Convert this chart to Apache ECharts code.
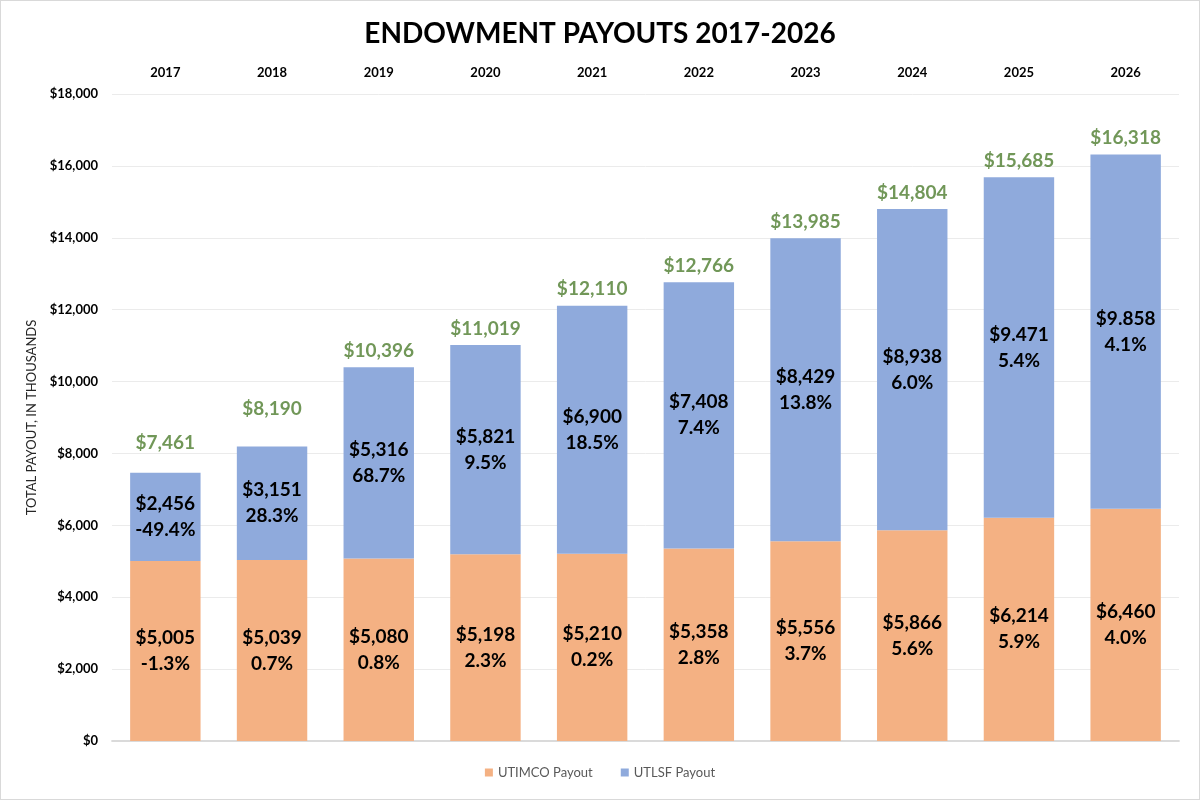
<!DOCTYPE html>
<html lang="en">
<head>
  <meta charset="UTF-8">
  <script src="https://cdn.jsdelivr.net/npm/echarts@6/dist/echarts.min.js"></script>
  <title>Endowment Payouts 2017-2026</title>
  <style>
    html, body { margin: 0; padding: 0; background: #fff; }
    #main {
      width: 1200px;
      height: 800px;
      box-sizing: border-box;
      border: 1px solid #d9d9d9;
    }
  </style>
</head>
<body>
  <div id="main"></div>
  <script>
    // data
    var years = ['2017', '2018', '2019', '2020', '2021', '2022', '2023', '2024', '2025', '2026'];
    var utimco = [5005, 5039, 5080, 5198, 5210, 5358, 5556, 5866, 6214, 6460];
    var utlsf = [2456, 3151, 5316, 5821, 6900, 7408, 8429, 8938, 9471, 9858];
    var totals = [7461, 8190, 10396, 11019, 12110, 12766, 13985, 14804, 15685, 16318];
    var utimcoGrowth = ['-1.3%', '0.7%', '0.8%', '2.3%', '0.2%', '2.8%', '3.7%', '5.6%', '5.9%', '4.0%'];
    var utlsfGrowth = ['-49.4%', '28.3%', '68.7%', '9.5%', '18.5%', '7.4%', '13.8%', '6.0%', '5.4%', '4.1%'];
    // the source shows two of these with a dot instead of a comma
    var utlsfText = ['$2,456', '$3,151', '$5,316', '$5,821', '$6,900', '$7,408', '$8,429', '$8,938', '$9.471', '$9.858'];

    var FONT = 'Lato';
    var chart = echarts.init(document.getElementById('main'));

    function money(v) {
      return '$' + v.toLocaleString('en-US');
    }

    var barLabel = {
      show: true,
      position: 'inside',
      fontFamily: FONT,
      fontWeight: 'bold',
      fontSize: 19,
      lineHeight: 26,
      color: '#000'
    };

    chart.setOption({
      animation: false,
      textStyle: { fontFamily: FONT },
      title: {
        text: 'ENDOWMENT PAYOUTS 2017-2026',
        left: 'center',
        top: 14,
        textStyle: { fontFamily: FONT, fontSize: 28, fontWeight: 'bold', color: '#000' }
      },
      legend: {
        data: ['UTIMCO Payout', 'UTLSF Payout'],
        bottom: 15,
        left: 'center',
        itemWidth: 8,
        itemHeight: 8,
        itemGap: 28,
        icon: 'rect',
        textStyle: { fontFamily: FONT, fontSize: 13, color: '#595959' }
      },
      grid: { left: 111, right: 20, top: 93, bottom: 58 },
      xAxis: [
        {
          type: 'category',
          data: years,
          position: 'top',
          axisLine: { show: true, lineStyle: { color: '#d9d9d9', width: 1.5 } },
          axisTick: { show: false },
          axisLabel: { color: '#000', fontWeight: 'bold', fontSize: 13, margin: 15 }
        },
        {
          type: 'category',
          data: years,
          position: 'bottom',
          axisLine: { show: true, lineStyle: { color: '#d9d9d9', width: 1.5 } },
          axisTick: { show: false },
          axisLabel: { show: false }
        }
      ],
      yAxis: {
        type: 'value',
        min: 0,
        max: 18000,
        interval: 2000,
        name: 'TOTAL PAYOUT, IN THOUSANDS',
        nameLocation: 'middle',
        nameGap: 74,
        nameTextStyle: { fontFamily: FONT, fontSize: 13, color: '#262626' },
        axisLine: { show: false },
        axisTick: { show: false },
        splitLine: { lineStyle: { color: '#ebebeb' } },
        axisLabel: {
          color: '#000',
          fontWeight: 'bold',
          fontSize: 13,
          margin: 14,
          formatter: function (v) { return money(v); }
        }
      },
      series: [
        {
          name: 'UTIMCO Payout',
          type: 'bar',
          stack: 'pay',
          barWidth: '66%',
          itemStyle: { color: '#F4B183' },
          data: utimco,
          label: Object.assign({}, barLabel, {
            formatter: function (p) {
              return money(utimco[p.dataIndex]) + '\n' + utimcoGrowth[p.dataIndex];
            }
          })
        },
        {
          name: 'UTLSF Payout',
          type: 'bar',
          stack: 'pay',
          itemStyle: { color: '#8FAADC' },
          data: utlsf,
          label: Object.assign({}, barLabel, {
            formatter: function (p) {
              return utlsfText[p.dataIndex] + '\n' + utlsfGrowth[p.dataIndex];
            }
          })
        },
        {
          name: 'Total',
          type: 'scatter',
          symbolSize: 0,
          silent: true,
          data: totals.map(function (v, i) {
            if (i === 0) return { value: v, label: { distance: 20 } };
            if (i === 1) return { value: v, label: { distance: 28 } };
            return v;
          }),
          label: {
            show: true,
            position: 'top',
            distance: 7,
            fontFamily: FONT,
            fontWeight: 'bold',
            fontSize: 19,
            color: '#4E7D2E',
            formatter: function (p) { return money(totals[p.dataIndex]); }
          }
        }
      ]
    });
  </script>
</body>
</html>
